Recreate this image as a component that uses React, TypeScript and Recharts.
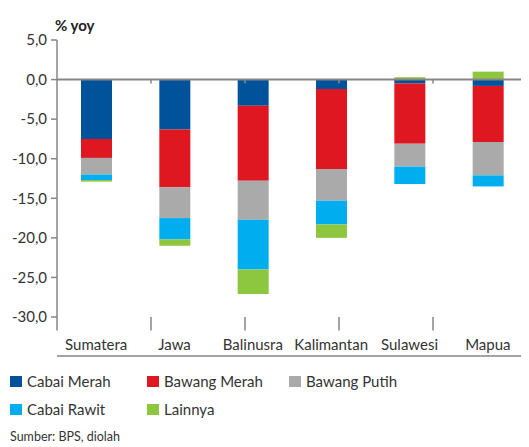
import React from 'react';
import { BarChart, Bar, XAxis, YAxis, ReferenceLine } from 'recharts';

const categories = ['Sumatera', 'Jawa', 'Balinusra', 'Kalimantan', 'Sulawesi', 'Mapua'];
const cabaiMerah = [-7.5, -6.3, -3.3, -1.2, -0.5, -0.8];
const bawangMerah = [-2.4, -7.3, -9.5, -10.1, -7.6, -7.1];
const bawangPutih = [-2.1, -3.9, -4.9, -4.0, -2.9, -4.2];
const cabaiRawit = [-0.7, -2.7, -6.3, -3.0, -2.2, -1.4];
const lainnya = [-0.2, -0.8, -3.1, -1.7, 0.3, 1.0];
const yTicks = [-30, -25, -20, -15, -10, -5, 0, 5];
const boundaryTicks = [0, 1, 2, 3, 4, 5, 6];
const innerBoundaries = [1, 2, 3, 4, 5];

const series = [
  { key: 'cabaiMerah', name: 'Cabai Merah', color: '#00529B', values: cabaiMerah },
  { key: 'bawangMerah', name: 'Bawang Merah', color: '#DE1720', values: bawangMerah },
  { key: 'bawangPutih', name: 'Bawang Putih', color: '#AAAAAA', values: bawangPutih },
  { key: 'cabaiRawit', name: 'Cabai Rawit', color: '#00AEEF', values: cabaiRawit },
  { key: 'lainnya', name: 'Lainnya', color: '#8DC63F', values: lainnya },
];

const data = categories.map((c, i) => {
  const row: Record<string, string | number> = { name: c };
  series.forEach((s) => {
    row[s.key] = s.values[i];
  });
  return row;
});

const FONT = 'Lato, "Open Sans", sans-serif';
const TEXT = '#333333';
const AXIS = '#868686';

const fmt = (v: number) => v.toFixed(1).replace('.', ',');

const legendCols = [0, 137, 279];

export default function App() {
  return (
    <div style={{ position: 'relative', width: 521, height: 439, fontFamily: FONT, color: TEXT }}>
      <div style={{ position: 'absolute', left: 47, top: 8, fontSize: 15, fontWeight: 700, color: '#222' }}>% yoy</div>
      <BarChart
        width={521}
        height={349}
        data={data}
        stackOffset="sign"
        margin={{ top: 32, right: 2, left: 0, bottom: 0 }}
      >
        <XAxis
          xAxisId="b"
          type="number"
          domain={[0, 6]}
          ticks={boundaryTicks}
          tick={false}
          tickLine={false}
          height={1}
          axisLine={{ stroke: AXIS, strokeWidth: 1.5 }}
        />
        <XAxis
          dataKey="name"
          height={39}
          axisLine={false}
          tickLine={false}
          tickSize={0}
          tickMargin={22}
          interval={0}
          tick={{ fill: TEXT, fontSize: 15, fontFamily: FONT }}
        />
        <YAxis
          domain={[-30, 5]}
          ticks={yTicks}
          width={49}
          tickFormatter={fmt}
          tickSize={6}
          tickMargin={4}
          axisLine={{ stroke: AXIS, strokeWidth: 1.5 }}
          tickLine={{ stroke: AXIS, strokeWidth: 1.5 }}
          tick={{ fill: TEXT, fontSize: 15, fontFamily: FONT }}
          interval={0}
        />
        {series.map((s) => (
          <Bar
            key={s.key}
            dataKey={s.key}
            name={s.name}
            stackId="a"
            fill={s.color}
            barSize={31}
            isAnimationActive={false}
          />
        ))}
        <ReferenceLine y={0} xAxisId="b" stroke={AXIS} strokeWidth={2} />
        {innerBoundaries.map((b) => (
          <ReferenceLine
            key={'z' + b}
            xAxisId="b"
            segment={[{ x: b, y: 0 }, { x: b, y: -0.5 }]}
            stroke={AXIS}
            strokeWidth={1.5}
          />
        ))}
        {boundaryTicks.map((b) => (
          <ReferenceLine
            key={'t' + b}
            xAxisId="b"
            ifOverflow="visible"
            segment={[{ x: b, y: -30 }, { x: b, y: -31.7 }]}
            stroke={AXIS}
            strokeWidth={1.5}
          />
        ))}
      </BarChart>
      <div style={{ position: 'absolute', left: 0, top: 361, width: 521 }}>
        {[series.slice(0, 3), series.slice(3)].map((row, ri) => (
          <div key={ri} style={{ position: 'relative', height: 28 }}>
            {row.map((s, ci) => (
              <div
                key={s.key}
                style={{ position: 'absolute', left: legendCols[ci] + 2, top: 0, display: 'flex', alignItems: 'center', height: 24 }}
              >
                <span style={{ display: 'inline-block', width: 12, height: 11, background: s.color, marginRight: 5 }} />
                <span style={{ fontSize: 15 }}>{s.name}</span>
              </div>
            ))}
          </div>
        ))}
        <div style={{ position: 'absolute', left: 2, top: 60, fontSize: 12.5 }}>Sumber: BPS, diolah</div>
      </div>
    </div>
  );
}
